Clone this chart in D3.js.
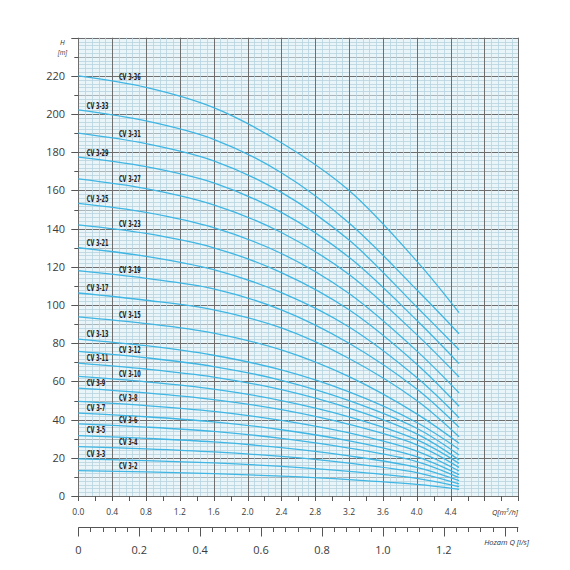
<!DOCTYPE html>
<html>
<head>
<meta charset="utf-8">
<script src="https://cdn.jsdelivr.net/npm/d3@7"></script>
<style>
  body { margin: 0; background: #fff; }
  svg { display: block; }
  .tick-lbl { font-family: "Open Sans", "Noto Sans", sans-serif; fill: #3a3a3a; }
  .curve-lbl { font-family: "Liberation Sans Narrow", "DejaVu Sans Condensed", "Roboto Condensed", sans-serif;
               font-stretch: condensed; font-weight: bold; font-size: 8.5px; fill: #222; }
  .unit { font-family: "Open Sans", "Noto Sans", sans-serif; font-style: italic; fill: #333; }
</style>
</head>
<body>
<div id="chart"></div>
<script>
// flow points (m3/h) where the heads were read
var flowQ = [0, 0.8, 1.6, 2.4, 3.2, 4.0, 4.5];

var models = ["CV 3-2", "CV 3-3", "CV 3-4", "CV 3-5", "CV 3-6", "CV 3-7", "CV 3-8", "CV 3-9",
  "CV 3-10", "CV 3-11", "CV 3-12", "CV 3-13", "CV 3-15", "CV 3-17", "CV 3-19", "CV 3-21",
  "CV 3-23", "CV 3-25", "CV 3-27", "CV 3-29", "CV 3-31", "CV 3-33", "CV 3-36"];

// head H [m] of each model at flowQ
var heads = [
  [13.3, 12.6, 11.7, 10.4, 8.6, 6.1, 3.5],
  [19.4, 18.5, 17.3, 15.5, 12.9, 9.2, 4.9],
  [25.9, 24.7, 23.1, 20.7, 17.2, 12.3, 6.3],
  [31.6, 30.2, 28.3, 25.3, 21, 15, 8],
  [37.8, 36.1, 33.8, 30.2, 25.1, 18, 9.6],
  [43.4, 41.5, 38.8, 34.7, 28.9, 20.6, 11.2],
  [49.5, 47.3, 44.3, 39.6, 33, 23.5, 13.1],
  [56.5, 54, 50.5, 45.2, 37.5, 26.8, 15],
  [62.6, 59.8, 56, 50, 41.5, 29.5, 17.1],
  [69.6, 66.5, 62.3, 55.7, 46, 32.5, 18.9],
  [75.7, 72.4, 67.8, 60.6, 50, 35.5, 21.5],
  [82.2, 78.7, 73.7, 66, 54.5, 38.5, 24.5],
  [93.8, 90.3, 85.3, 76.5, 62.5, 43, 27.6],
  [106.3, 102.5, 97.5, 88, 72, 50, 31],
  [118, 114, 108.5, 97.5, 80, 56, 36],
  [130, 125.5, 118.5, 106.5, 88.5, 62, 41],
  [142, 137.5, 130, 117, 97.5, 69, 47],
  [153.2, 148.5, 140.5, 127, 106, 76, 54],
  [166.1, 161, 152.5, 138, 116, 84.5, 62.3],
  [177.5, 172.5, 164, 148.5, 125, 92, 69.3],
  [190, 184.5, 175.5, 159, 134, 99, 76.6],
  [202.2, 196.4, 186.8, 169.3, 143, 108, 85],
  [220, 214, 203.4, 185, 160, 123, 96]
];

// flow where each label sits
var labelQ = [0.48, 0.1, 0.48, 0.1, 0.48, 0.1, 0.48, 0.1, 0.48, 0.1, 0.48, 0.1,
  0.48, 0.1, 0.48, 0.1, 0.48, 0.1, 0.48, 0.1, 0.48, 0.1, 0.48];

var headTicks = [0, 20, 40, 60, 80, 100, 120, 140, 160, 180, 200, 220];
var flowTicks = [0, 0.4, 0.8, 1.2, 1.6, 2.0, 2.4, 2.8, 3.2, 3.6, 4.0, 4.4];
var litreTicks = [0, 0.2, 0.4, 0.6, 0.8, 1.0, 1.2];

var W = 570, H = 570;
var svg = d3.select("#chart").append("svg").attr("width", W).attr("height", H);

var x = d3.scaleLinear().domain([0, 5.2]).range([78.3, 518.3]);
var y = d3.scaleLinear().domain([0, 240]).range([496, 37.7]);
var xl = d3.scaleLinear().domain([0, 5.2 / 3.6]).range([78.3, 518.3]);

// grid
var grid = svg.append("g");
grid.append("rect").attr("x", x(0)).attr("y", y(240))
  .attr("width", x(5.2) - x(0)).attr("height", y(0) - y(240)).attr("fill", "#eaf5f9");

var hMinor = d3.range(0, 241, 2);
var vMinor = d3.range(0, 66).map(function(i) { return i * 0.08; });

grid.selectAll(".hm").data(hMinor).enter().append("line")
  .attr("x1", x(0)).attr("x2", x(5.2))
  .attr("y1", function(d) { return Math.round(y(d)) + 0.5; })
  .attr("y2", function(d) { return Math.round(y(d)) + 0.5; })
  .attr("stroke", function(d) { return d % 20 == 0 ? "#6e6e6e" : (d % 10 == 0 ? "#9aa6aa" : "#b6d3de"); })
  .attr("stroke-width", function(d) { return d % 20 == 0 ? 1 : 0.8; });

grid.selectAll(".vm").data(vMinor).enter().append("line")
  .attr("y1", y(0)).attr("y2", y(240))
  .attr("x1", function(d) { return Math.round(x(d)) + 0.5; })
  .attr("x2", function(d) { return Math.round(x(d)) + 0.5; })
  .attr("stroke", function(d, i) { return i % 5 == 0 ? "#6e6e6e" : "#b6d3de"; })
  .attr("stroke-width", function(d, i) { return i % 5 == 0 ? 1 : 0.8; });

// left axis
var leftTicks = d3.range(0, 241, 10);
svg.selectAll(".lt").data(leftTicks).enter().append("line")
  .attr("x1", function(d) { return x(0) - (d % 20 == 0 ? 7 : 4); }).attr("x2", x(0))
  .attr("y1", function(d) { return Math.round(y(d)) + 0.5; })
  .attr("y2", function(d) { return Math.round(y(d)) + 0.5; })
  .attr("stroke", "#555");

svg.selectAll(".ll").data(headTicks).enter().append("text")
  .attr("class", "tick-lbl")
  .attr("x", 65).attr("y", function(d) { return y(d) + 4; })
  .attr("text-anchor", "end").attr("font-size", 11)
  .text(function(d) { return d; });

svg.append("text").attr("class", "unit").attr("x", 62.5).attr("y", 45)
  .attr("text-anchor", "middle").attr("font-size", 7).text("H");
svg.append("text").attr("class", "unit").attr("x", 62.5).attr("y", 55)
  .attr("text-anchor", "middle").attr("font-size", 6.5).text("[m]");

// flow axis m3/h
var bTicks = d3.range(0, 27).map(function(i) { return i * 0.2; });
svg.selectAll(".bt").data(bTicks).enter().append("line")
  .attr("x1", function(d) { return Math.round(x(d)) + 0.5; })
  .attr("x2", function(d) { return Math.round(x(d)) + 0.5; })
  .attr("y1", y(0)).attr("y2", y(0) + 5)
  .attr("stroke", "#555");

svg.selectAll(".bl").data(flowTicks).enter().append("text")
  .attr("class", "tick-lbl")
  .attr("x", function(d) { return x(d); }).attr("y", 515)
  .attr("text-anchor", "middle").attr("font-size", 8.5)
  .text(d3.format(".1f"));

svg.append("text").attr("class", "unit").attr("x", 518).attr("y", 515)
  .attr("text-anchor", "end").attr("font-size", 7.5)
  .html("Q[m<tspan dy='-3' font-size='5'>3</tspan><tspan dy='3'>/h]</tspan>");

// flow axis l/s
var axL = svg.append("g");
axL.append("line").attr("x1", xl(0)).attr("x2", xl(5.2 / 3.6))
  .attr("y1", 527.5).attr("y2", 527.5).attr("stroke", "#555");
var lTicks = d3.range(0, 37).map(function(i) { return i * 0.04; });
axL.selectAll(".lst").data(lTicks).enter().append("line")
  .attr("x1", function(d) { return Math.round(xl(d)) + 0.5; })
  .attr("x2", function(d) { return Math.round(xl(d)) + 0.5; })
  .attr("y1", 527.5)
  .attr("y2", function(d, i) { return 527.5 + (i % 5 == 0 ? 9 : 4.5); })
  .attr("stroke", "#555");
axL.selectAll(".lsl").data(litreTicks).enter().append("text")
  .attr("class", "tick-lbl")
  .attr("x", function(d) { return xl(d); }).attr("y", 554)
  .attr("text-anchor", "middle").attr("font-size", 11)
  .text(function(d) { return d == 0 ? "0" : d3.format(".1f")(d); });
svg.append("text").attr("class", "unit").attr("x", 529).attr("y", 544.5)
  .attr("text-anchor", "end").attr("font-size", 7.5)
  .text("Hozam Q [l/s]");

// curves
var line = d3.line()
  .x(function(d) { return x(d[0]); })
  .y(function(d) { return y(d[1]); })
  .curve(d3.curveCatmullRom.alpha(0.5));

var curves = svg.append("g");
models.forEach(function(m, i) {
  var pts = flowQ.map(function(q, j) { return [q, heads[i][j]]; });
  curves.append("path").datum(pts)
    .attr("d", line)
    .attr("fill", "none")
    .attr("stroke", "#3fb6e3")
    .attr("stroke-width", 1.3);

  var hAt = d3.scaleLinear().domain(flowQ).range(heads[i]);
  curves.append("text").attr("class", "curve-lbl")
    .attr("x", x(labelQ[i]))
    .attr("y", y(hAt(labelQ[i])) - 2.5)
    .attr("textLength", m.length * 3.1)
    .attr("lengthAdjust", "spacingAndGlyphs")
    .text(m);
});
</script>
</body>
</html>
